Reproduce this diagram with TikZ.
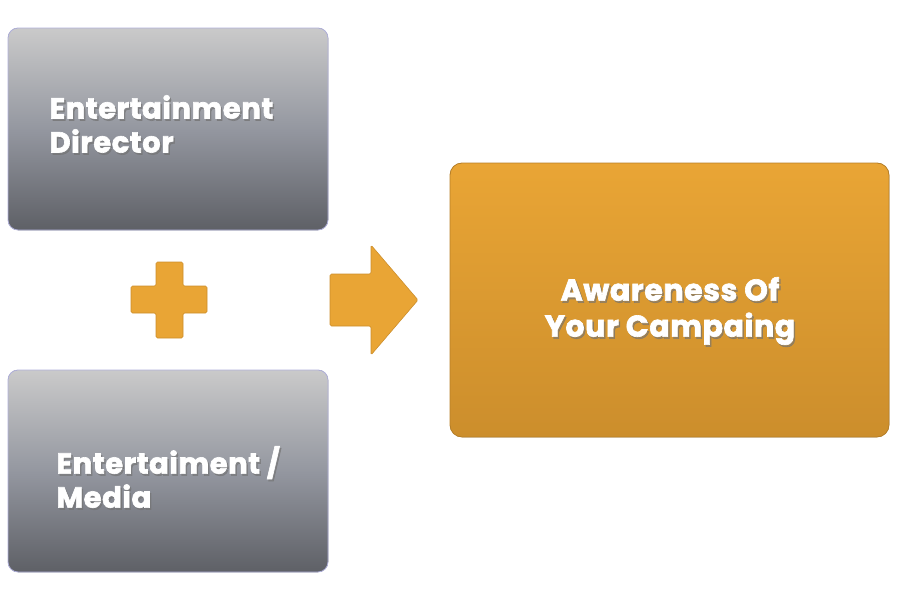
\documentclass[tikz,border=0pt]{standalone}
\usepackage{fontspec}
\setmainfont{Poppins}[BoldFeatures={FakeBold=2.2, LetterSpace=2}]
\usepackage{tikz}
\usetikzlibrary{positioning}

\definecolor{gold}{RGB}{233,165,53}
\definecolor{golddark}{RGB}{204,142,44}
\definecolor{greylight}{RGB}{202,202,202}
\definecolor{greymid}{RGB}{148,151,160}
\definecolor{greydark}{RGB}{94,96,102}

\tikzset{
  greybox/.style={rounded corners=10pt, top color=greylight, bottom color=greydark, middle color=greymid, draw=greydark!60!blue!40, line width=0.8pt},
  goldbox/.style={rounded corners=12pt, top color=gold, bottom color=golddark, draw=golddark!90!black, line width=0.8pt},
  goldshape/.style={fill=gold, draw=golddark, line width=0.6pt, rounded corners=1.5pt},
  label/.style={text=white, font=\bfseries\fontsize{29}{34}\selectfont, align=left},
  biglabel/.style={text=white, font=\bfseries\fontsize{30}{36}\selectfont, align=center},
  shadow/.style={text=black!55, opacity=0.6}
}

\begin{document}
\begin{tikzpicture}[x=1pt, y=-1pt]
    \useasboundingbox (0,0) rectangle (900,600);

    % Boxes
    \filldraw[greybox] (8,28) rectangle (328,230);
    \filldraw[greybox] (8,370) rectangle (328,572);
    \filldraw[goldbox] (450,163) rectangle (889,437);

    % Labels
    \node[label, shadow, anchor=west] (dirshadow) at (47.5,126) {Entertainment\\Director};
    \node[label, anchor=west] (dir) at (46,124) {Entertainment\\Director};
    \node[label, shadow, anchor=west] (mediashadow) at (54.5,479) {Entertaiment /\\Media};
    \node[label, anchor=west] (media) at (53,477) {Entertaiment /\\Media};
    \node[biglabel, shadow] (awareshadow) at (671.5,313) {Awareness Of\\Your Campaing};
    \node[biglabel] (aware) at (670,311) {Awareness Of\\Your Campaing};

    % Plus sign
    \filldraw[goldshape] (156,262) -- (183,262) -- (183,286) -- (207,286) -- (207,313)
        -- (183,313) -- (183,338) -- (156,338) -- (156,313) -- (131,313) -- (131,286)
        -- (156,286) -- cycle;

    % Arrow
    \filldraw[goldshape] (330,274) -- (371,274) -- (371,245) -- (418,300) -- (371,355)
        -- (371,326) -- (330,326) -- cycle;
\end{tikzpicture}
\end{document}
